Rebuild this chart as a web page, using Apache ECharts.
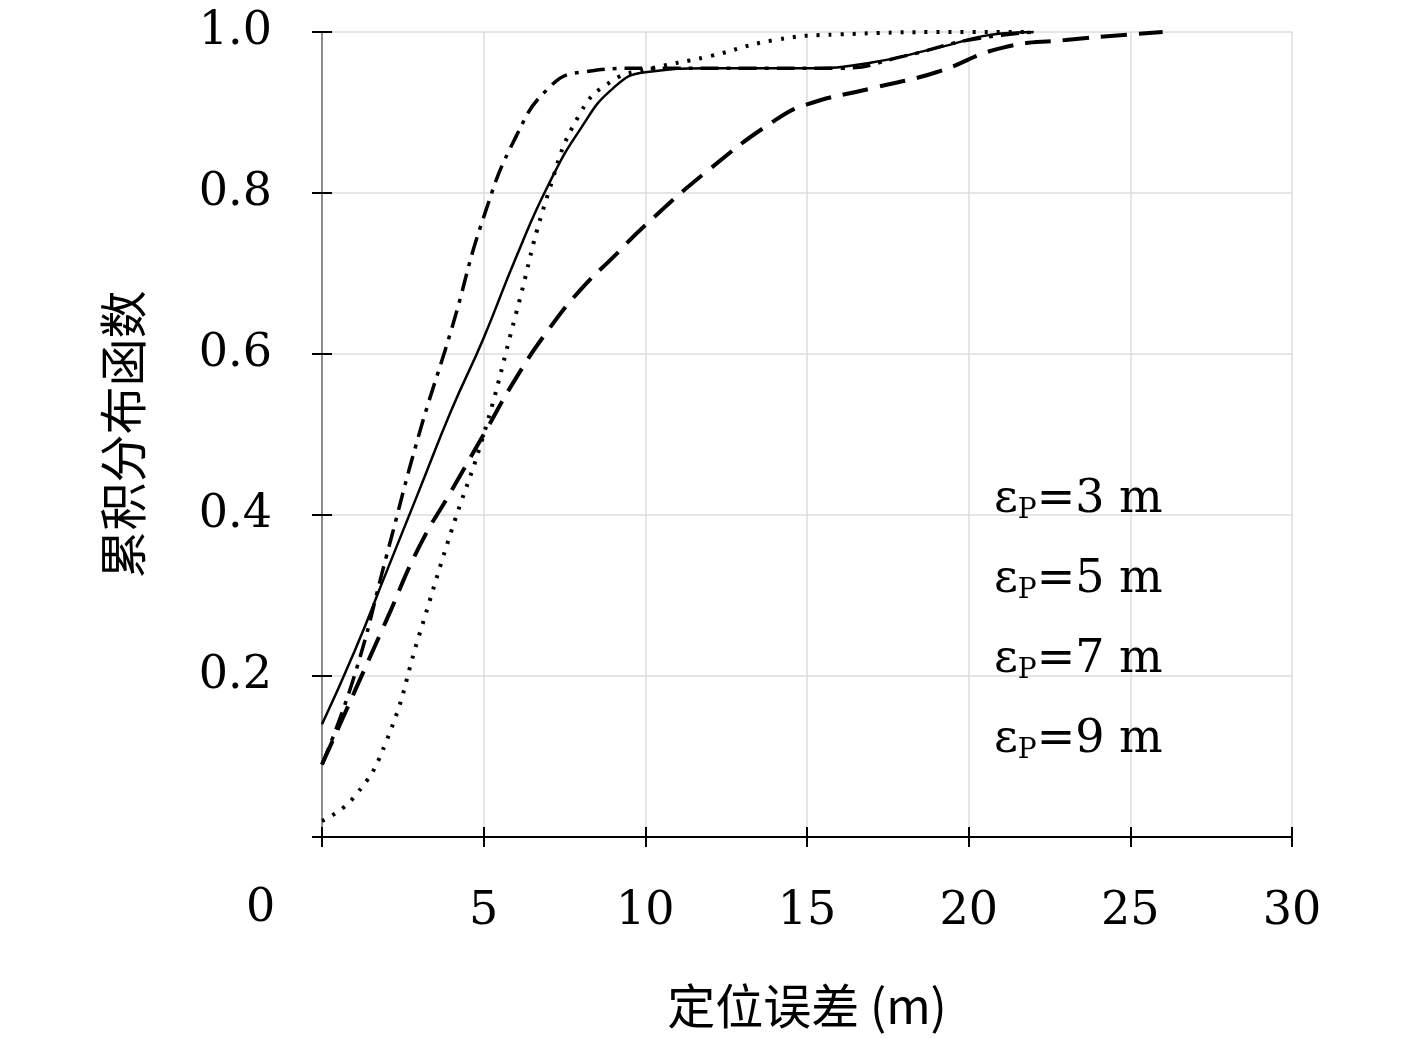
<!DOCTYPE html>
<html>
<head>
<meta charset="utf-8">
<script src="https://cdn.jsdelivr.net/npm/echarts@6/dist/echarts.min.js"></script>
<style>html,body{margin:0;padding:0;background:#fff}#main{width:1417px;height:1038px}</style>
</head>
<body>
<div id="main"></div>
<script>
// 各曲线数据 [定位误差, 累积分布]
var eps3 = [[0,0.02],[1,0.05],[2,0.12],[3,0.25],[4,0.38],[5,0.5],[6,0.65],[7,0.8],[8,0.9],[9,0.94],[10,0.953],[12,0.97],[14,0.99],[16,0.997],[20,1.0],[22,1.0]];
var eps5 = [[0,0.09],[1,0.2],[2,0.35],[3,0.5],[4,0.63],[5,0.77],[6,0.87],[7,0.93],[8,0.95],[10,0.955],[13,0.955],[16,0.955],[18,0.97],[20,0.99],[22,1.0]];
var eps7 = [[0,0.14],[1,0.23],[2,0.33],[3,0.43],[4,0.53],[5,0.62],[6,0.72],[7,0.81],[8,0.88],[9,0.93],[10,0.95],[12,0.955],[15,0.955],[17,0.962],[19,0.98],[21,0.998],[22,1.0]];
var eps9 = [[0,0.09],[1,0.18],[2,0.27],[3,0.36],[4,0.43],[5,0.5],[6,0.57],[7,0.63],[8,0.68],[9,0.72],[10,0.76],[12,0.83],[14,0.89],[15,0.91],[17,0.93],[19,0.95],[21,0.98],[23,0.99],[26,1.0]];
var legendNames = ['3', '5', '7', '9'];

var serif = '"DejaVu Serif", "Liberation Serif", serif';
var cjk = '"Noto Sans CJK SC", sans-serif';

var makeSeries = function(name, data, width, dash) {
    return {
        name: name,
        type: 'line',
        data: data,
        smooth: true,
        symbol: 'none',
        color: '#000',
        itemStyle: { color: '#000' },
        lineStyle: { color: '#000', width: width, type: dash }
    };
};

var chart = echarts.init(document.getElementById('main'));
chart.setOption({
    animation: false,
    grid: { left: 322, top: 32, right: 125, bottom: 201 },
    legend: {
        orient: 'vertical',
        left: 882,
        top: 472,
        itemWidth: 88,
        itemHeight: 20,
        itemGap: 32,
        icon: 'none',
        itemStyle: { opacity: 0 },
        data: legendNames,
        formatter: function(n) { return '{a|ε}{s|P}{a|=' + n + ' m}'; },
        textStyle: {
            padding: [0, 0, 0, 14],
            rich: {
                a: { fontFamily: serif, fontSize: 46, color: '#000' },
                s: { fontFamily: serif, fontSize: 28, color: '#000', verticalAlign: 'bottom', padding: [22, 0, 0, 0] }
            }
        }
    },
    xAxis: [{
        type: 'value', min: 0, max: 30, interval: 5,
        name: '定位误差 (m)', nameLocation: 'middle', nameGap: 145,
        nameTextStyle: { fontFamily: cjk, fontSize: 48, color: '#000' },
        axisLine: { show: true, lineStyle: { color: '#000', width: 2 } },
        axisTick: { inside: true, length: 10, lineStyle: { color: '#000', width: 2 } },
        axisLabel: { margin: 52, fontFamily: serif, fontSize: 46, color: '#000',
            formatter: function(v) { return v === 0 ? '' : v; } },
        splitLine: { show: true, lineStyle: { color: '#ddd', width: 1.5 } }
    }, {
        type: 'value', min: 0, max: 30, interval: 5, position: 'top',
        axisLine: { show: true, lineStyle: { color: '#000', width: 2 } },
        axisTick: { inside: true, length: 10, lineStyle: { color: '#000', width: 2 } },
        axisLabel: { show: false }, splitLine: { show: false }
    }],
    yAxis: [{
        type: 'value', min: 0, max: 1, interval: 0.2,
        name: '累积分布函数', nameLocation: 'middle', nameGap: 175,
        nameTextStyle: { fontFamily: cjk, fontSize: 48, color: '#000' },
        axisLine: { show: true, lineStyle: { color: '#000', width: 2 } },
        axisTick: { inside: true, length: 10, lineStyle: { color: '#000', width: 2 } },
        axisLabel: { margin: 50, fontFamily: serif, fontSize: 46, color: '#000',
            formatter: function(v) { return v === 0 ? '' : v.toFixed(1); } },
        splitLine: { show: true, lineStyle: { color: '#ddd', width: 1.5 } }
    }, {
        type: 'value', min: 0, max: 1, interval: 0.2, position: 'right',
        axisLine: { show: true, lineStyle: { color: '#bbb', width: 1.5 } },
        axisTick: { inside: true, length: 10, lineStyle: { color: '#000', width: 2 } },
        axisLabel: { show: false }, splitLine: { show: false }
    }],
    graphic: [{
        type: 'text', left: 246, top: 886,
        style: { text: '0', fontFamily: serif, fontSize: 46, fill: '#000' }
    }],
    series: [
        makeSeries('3', eps3, 4, [3, 9]),
        makeSeries('5', eps5, 3.5, [18, 8, 4, 8]),
        makeSeries('7', eps7, 2.5, 'solid'),
        makeSeries('9', eps9, 4, [26, 12])
    ]
});
</script>
</body>
</html>
